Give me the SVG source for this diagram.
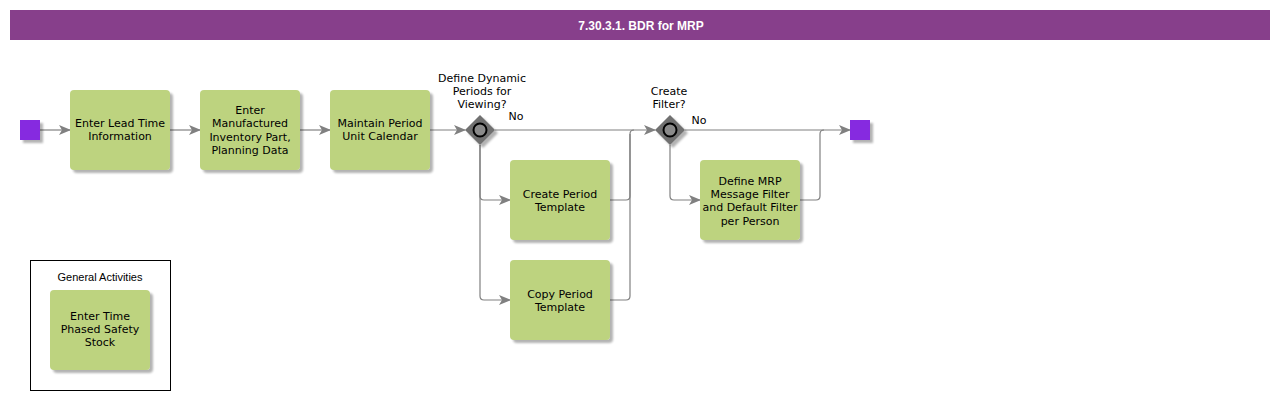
<svg xmlns="http://www.w3.org/2000/svg" width="1280" height="400" viewBox="0 0 1280 400">
<style>
.task rect.b{fill:#bdd37f;}
.sh{fill:#c8c8c8;}
.t{font-family:"DejaVu Sans",Verdana,sans-serif;font-size:11px;fill:#000;text-anchor:middle;}
.lbl{font-family:"DejaVu Sans",Verdana,sans-serif;font-size:11px;fill:#000;text-anchor:middle;}
.ev{fill:#8629e0;}
.c{fill:none;stroke:#808080;stroke-width:1.2;}
.gw{fill:#6f6f6f;}
.gc{fill:#8a8a8a;stroke:#000;stroke-width:2;}
</style>
<defs>
<marker id="ah" markerWidth="12" markerHeight="10" refX="11" refY="5" orient="auto" markerUnits="userSpaceOnUse">
<path d="M0,0 L12,5 L0,10 L3,5 Z" fill="#808080"/>
</marker>
<filter id="ds" x="-20%" y="-20%" width="150%" height="150%">
<feGaussianBlur in="SourceAlpha" stdDeviation="1.2"/>
<feOffset dx="3" dy="3" result="o"/>
<feComponentTransfer><feFuncA type="linear" slope="0.3"/></feComponentTransfer>
<feMerge><feMergeNode/><feMergeNode in="SourceGraphic"/></feMerge>
</filter>
</defs>
<rect width="1280" height="400" fill="#fff"/>
<g id="title">
<rect x="10" y="10" width="1260" height="30" fill="#873f8b"/>
<text x="641" y="29.5" font-family="Liberation Sans,Arial,sans-serif" font-size="12" font-weight="bold" fill="#fff" text-anchor="middle">7.30.3.1. BDR for MRP</text>
</g>
<g id="connectors">
<path class="c" d="M40,130 H70" marker-end="url(#ah)"/>
<path class="c" d="M170,130 H200" marker-end="url(#ah)"/>
<path class="c" d="M300,130 H330" marker-end="url(#ah)"/>
<path class="c" d="M430,130 H465" marker-end="url(#ah)"/>
<path class="c" d="M495,130 H655" marker-end="url(#ah)"/>
<path class="c" d="M480,145 V196 Q480,200 484,200 H510" marker-end="url(#ah)"/>
<path class="c" d="M480,145 V296 Q480,300 484,300 H510" marker-end="url(#ah)"/>
<path class="c" d="M610,200 H626 Q630,200 630,196 V134 Q630,130 634,130"/>
<path class="c" d="M610,300 H626 Q630,300 630,296 V134"/>
<path class="c" d="M685,130 H850" marker-end="url(#ah)"/>
<path class="c" d="M670,145 V196 Q670,200 674,200 H700" marker-end="url(#ah)"/>
<path class="c" d="M800,200 H816 Q820,200 820,196 V134 Q820,130 824,130"/>
</g>
<g id="start">
<rect x="20" y="120" width="20" height="20" class="ev" filter="url(#ds)"/>
</g>
<g id="end">
<rect x="850" y="120" width="20" height="20" class="ev" filter="url(#ds)"/>
</g>
<g id="task1" class="task">
<rect class="b" x="70" y="90" width="100" height="80" rx="4" filter="url(#ds)"/>
<text class="t" x="120" y="127">Enter Lead Time</text>
<text class="t" x="120" y="140">Information</text>
</g>
<g id="task2" class="task">
<rect class="b" x="200" y="90" width="100" height="80" rx="4" filter="url(#ds)"/>
<text class="t" x="250" y="114">Enter</text>
<text class="t" x="250" y="127">Manufactured</text>
<text class="t" x="250" y="141">Inventory Part,</text>
<text class="t" x="250" y="154">Planning Data</text>
</g>
<g id="task3" class="task">
<rect class="b" x="330" y="90" width="100" height="80" rx="4" filter="url(#ds)"/>
<text class="t" x="380" y="127">Maintain Period</text>
<text class="t" x="380" y="140">Unit Calendar</text>
</g>
<g id="gateway1">
<path class="gw" d="M480,115 L495,130 L480,145 L465,130 Z" filter="url(#ds)"/>
<circle class="gc" cx="480" cy="130" r="6.5"/>
<text class="lbl" x="482" y="82">Define Dynamic</text>
<text class="lbl" x="482" y="95">Periods for</text>
<text class="lbl" x="482" y="108">Viewing?</text>
<text class="lbl" x="516" y="120">No</text>
</g>
<g id="task4" class="task">
<rect class="b" x="510" y="160" width="100" height="80" rx="4" filter="url(#ds)"/>
<text class="t" x="560" y="198">Create Period</text>
<text class="t" x="560" y="211">Template</text>
</g>
<g id="task5" class="task">
<rect class="b" x="510" y="260" width="100" height="80" rx="4" filter="url(#ds)"/>
<text class="t" x="560" y="298">Copy Period</text>
<text class="t" x="560" y="311">Template</text>
</g>
<g id="gateway2">
<path class="gw" d="M670,115 L685,130 L670,145 L655,130 Z" filter="url(#ds)"/>
<circle class="gc" cx="670" cy="130" r="6.5"/>
<text class="lbl" x="669" y="95">Create</text>
<text class="lbl" x="669" y="108">Filter?</text>
<text class="lbl" x="699" y="124">No</text>
</g>
<g id="task6" class="task">
<rect class="b" x="700" y="160" width="100" height="80" rx="4" filter="url(#ds)"/>
<text class="t" x="750" y="185">Define MRP</text>
<text class="t" x="750" y="198">Message Filter</text>
<text class="t" x="750" y="211">and Default Filter</text>
<text class="t" x="750" y="225">per Person</text>
</g>
<g id="general">
<rect x="30.5" y="260.5" width="140" height="130" fill="#fff" stroke="#000" stroke-width="1"/>
<text x="100" y="281" font-family="Liberation Sans,Arial,sans-serif" font-size="11" text-anchor="middle">General Activities</text>
</g>
<g id="task7" class="task">
<rect class="b" x="50" y="290" width="100" height="80" rx="4" filter="url(#ds)"/>
<text class="t" x="100" y="320">Enter Time</text>
<text class="t" x="100" y="333">Phased Safety</text>
<text class="t" x="100" y="346">Stock</text>
</g>
</svg>
